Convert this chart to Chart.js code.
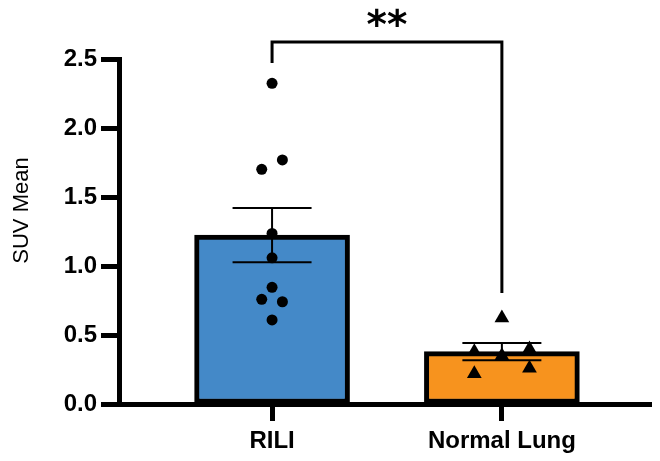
<!DOCTYPE html>
<html>
<head>
<meta charset="utf-8">
<script src="https://cdn.jsdelivr.net/npm/chart.js@4.4.1/dist/chart.umd.min.js"></script>
<style>
  html, body { margin: 0; padding: 0; background: #fff; }
  canvas { display: block; }
</style>
</head>
<body>
<canvas id="suvChart" width="660" height="461"></canvas>
<script>
const groups = ['RILI', 'Normal Lung'];
const groupMeans = [1.226, 0.38];
const groupSem = [0.197, 0.062];
const riliValues = [2.327, 1.771, 1.703, 1.238, 1.061, 0.847, 0.760, 0.742, 0.610];
const normalLungValues = [0.625, 0.38, 0.35, 0.40, 0.22, 0.26];
const yTicks = [0.0, 0.5, 1.0, 1.5, 2.0, 2.5];
const yTitle = 'SUV Mean';
const significance = '**';

// which column each dot sits in (-1 left, 0 centre, 1 right)
const riliColumn = [0, 1, -1, 0, 0, 0, -1, 1, 0];
const normalColumn = [0, -1, 0, 1, -1, 1];

const FONT = '"Liberation Sans", Arial, sans-serif';

// draws the SEM whiskers right after the bars (dots go on top)
const errorBars = {
    id: 'errorBars',
    afterDatasetDraw(chart, args) {
        if (args.index !== 0) return;
        const ctx = chart.ctx;
        const xs = chart.scales.x, ys = chart.scales.y;
        ctx.save();
        ctx.strokeStyle = '#000';
        ctx.lineWidth = 2;
        groupMeans.forEach((m, i) => {
            const x = xs.getPixelForValue(i + 1);
            const top = ys.getPixelForValue(m + groupSem[i]);
            const bot = ys.getPixelForValue(m - groupSem[i]);
            ctx.beginPath();
            ctx.moveTo(x, top); ctx.lineTo(x, bot);
            ctx.moveTo(x - 39.5, top); ctx.lineTo(x + 39.5, top);
            ctx.moveTo(x - 39.5, bot); ctx.lineTo(x + 39.5, bot);
            ctx.stroke();
        });
        ctx.restore();
    }
};

// significance bracket, stars and the y title
const annotations = {
    id: 'annotations',
    afterDraw(chart) {
        const ctx = chart.ctx;
        const xs = chart.scales.x, ys = chart.scales.y;
        const x1 = xs.getPixelForValue(1), x2 = xs.getPixelForValue(2);
        const yBar = ys.getPixelForValue(2.627);
        const yLeft = ys.getPixelForValue(2.475);
        const yRight = ys.getPixelForValue(0.805);
        ctx.save();
        ctx.strokeStyle = '#000';
        ctx.lineWidth = 3;
        ctx.beginPath();
        ctx.moveTo(x1, yLeft);
        ctx.lineTo(x1, yBar);
        ctx.lineTo(x2, yBar);
        ctx.lineTo(x2, yRight);
        ctx.stroke();

        ctx.fillStyle = '#000';
        ctx.font = 'bold 39px "DejaVu Sans", sans-serif';
        ctx.textAlign = 'center';
        ctx.textBaseline = 'alphabetic';
        ctx.fillText(significance, (x1 + x2) / 2, 38);

        ctx.translate(28, 210.5);
        ctx.rotate(-Math.PI / 2);
        ctx.font = '22px ' + FONT;
        ctx.fillText(yTitle, 0, 0);
        ctx.restore();
    }
};

const ctx = document.getElementById('suvChart').getContext('2d');
new Chart(ctx, {
    type: 'bar',
    data: {
        datasets: [{
            type: 'bar',
            order: 1,
            data: groupMeans.map((m, i) => ({ x: i + 1, y: m })),
            backgroundColor: ['#4489C8', '#F7931E'],
            borderColor: '#000',
            borderWidth: 5,
            borderSkipped: false,
            barThickness: 155
        }, {
            type: 'scatter',
            order: 0,
            data: riliValues.map((v, i) => ({ x: 1 + riliColumn[i] * 0.045, y: v })),
            pointStyle: 'circle',
            pointRadius: 5.5,
            pointBorderWidth: 0,
            pointBackgroundColor: '#000'
        }, {
            type: 'scatter',
            order: 0,
            data: normalLungValues.map((v, i) => ({ x: 2 + normalColumn[i] * 0.12, y: v })),
            pointStyle: 'triangle',
            pointRadius: 8.5,
            pointBorderWidth: 0,
            pointBackgroundColor: '#000'
        }]
    },
    options: {
        responsive: false,
        animation: false,
        events: [],
        layout: { padding: { top: 59.5, right: 0, bottom: 0, left: 0 } },
        plugins: { legend: { display: false }, tooltip: { enabled: false } },
        scales: {
            x: {
                type: 'linear',
                min: 0.334,
                max: 2.651,
                offset: false,
                afterBuildTicks: axis => { axis.ticks = groups.map((g, i) => ({ value: i + 1 })); },
                afterFit: s => { s.height = 57; },
                ticks: {
                    callback: v => groups[v - 1],
                    color: '#000',
                    font: { family: FONT, size: 24, weight: 'bold' },
                    padding: 6,
                    autoSkip: false,
                    maxRotation: 0
                },
                grid: { offset: false, drawOnChartArea: false, tickLength: 17, tickWidth: 5, tickColor: '#000' },
                border: { color: '#000', width: 5 }
            },
            y: {
                min: 0,
                max: 2.5,
                afterBuildTicks: axis => { axis.ticks = yTicks.map(v => ({ value: v })); },
                afterFit: s => { s.width = 119; },
                ticks: {
                    callback: v => v.toFixed(1),
                    color: '#000',
                    font: { family: FONT, size: 24, weight: 'bold' },
                    padding: 4
                },
                grid: { drawOnChartArea: false, tickLength: 18, tickWidth: 5, tickColor: '#000' },
                border: { color: '#000', width: 5 }
            }
        }
    },
    plugins: [errorBars, annotations]
});
</script>
</body>
</html>
